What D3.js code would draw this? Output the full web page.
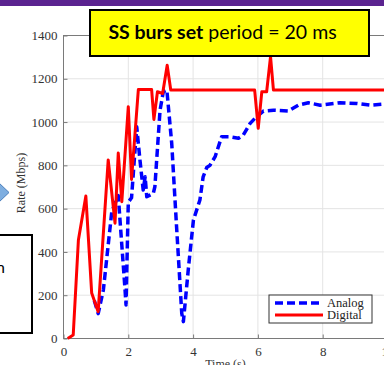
<!DOCTYPE html>
<html>
<head>
<meta charset="utf-8">
<script src="https://cdn.jsdelivr.net/npm/d3@7"></script>
<style>
  html, body { margin: 0; padding: 0; background: #fff; }
  svg { display: block; }
</style>
</head>
<body>
<svg id="chart" width="384" height="365"></svg>
<script>
// time (s) and rate (Mbps)
const digitalTime = [0.13, 0.3, 0.46, 0.69, 0.87, 1.07, 1.38, 1.59, 1.69, 1.8, 2.0, 2.1, 2.31, 2.72, 2.79, 2.9, 3.06, 3.2, 3.31, 5.9, 6.01, 6.12, 6.27, 6.39, 6.48, 10];
const digitalRate = [0, 16, 455, 658, 210, 124, 825, 533, 857, 632, 1071, 735, 1150, 1150, 1012, 1140, 1132, 1263, 1148, 1148, 971, 1140, 1140, 1302, 1148, 1148];

const analogTime = [0.95, 1.07, 1.23, 1.49, 1.69, 1.9, 1.93, 2.0, 2.1, 2.26, 2.36, 2.46, 2.52, 2.57, 2.77, 2.82, 2.98, 3.08, 3.19, 3.34, 3.49, 3.65, 3.7, 3.86, 4.01, 4.21, 4.31, 4.42, 4.52, 4.68, 4.88, 5.14, 5.4, 5.55, 5.76, 5.96, 6.17, 6.48, 6.94, 7.25, 7.56, 7.92, 8.53, 9.05, 9.46, 9.87, 10];
const analogRate = [176, 115, 224, 586, 660, 224, 155, 630, 650, 978, 824, 686, 747, 655, 670, 701, 1055, 1140, 1148, 902, 516, 116, 78, 332, 547, 640, 747, 790, 800, 840, 932, 932, 925, 940, 994, 1025, 1051, 1055, 1051, 1078, 1089, 1078, 1089, 1086, 1078, 1083, 1080];

const xTicks = [0, 2, 4, 6, 8, 10];
const yTicks = [0, 200, 400, 600, 800, 1000, 1200, 1400];
const seriesNames = ['Analog', 'Digital'];
const titleBold = 'SS burs set';
const titleRest = ' period = 20 ms';

const svg = d3.select('#chart');
const margin = { top: 35.5, left: 63.5 };
const plotW = 324, plotH = 303;

const x = d3.scaleLinear().domain([0, 10]).range([margin.left, margin.left + plotW]);
const y = d3.scaleLinear().domain([0, 1400]).range([margin.top + plotH, margin.top]);

// slide decoration behind the figure
svg.append('rect').attr('x', 0).attr('y', 0).attr('width', 384).attr('height', 6).attr('fill', '#5b2390');

// grid
const grid = svg.append('g').attr('stroke', '#e4e4e4').attr('stroke-width', 1);
grid.selectAll('.gx').data(xTicks).enter().append('line')
  .attr('x1', d => x(d)).attr('x2', d => x(d))
  .attr('y1', y(0)).attr('y2', y(1400));
grid.selectAll('.gy').data(yTicks).enter().append('line')
  .attr('x1', x(0)).attr('x2', x(10))
  .attr('y1', d => y(d)).attr('y2', d => y(d));

// axes
const serif = '"Liberation Serif", "Times New Roman", serif';
const xAxis = svg.append('g')
  .attr('transform', `translate(0,${y(0)})`)
  .call(d3.axisBottom(x).tickValues(xTicks).tickFormat(d3.format('d'))
    .tickSizeInner(-4).tickSizeOuter(0).tickPadding(8));
const yAxis = svg.append('g')
  .attr('transform', `translate(${x(0)},0)`)
  .call(d3.axisLeft(y).tickValues(yTicks).tickFormat(d3.format('d'))
    .tickSizeInner(-4).tickSizeOuter(0).tickPadding(6));
[xAxis, yAxis].forEach(a => {
  a.attr('font-family', serif).attr('font-size', 13);
  a.select('.domain').remove();
  a.selectAll('line').attr('stroke', '#7a7a7a');
  a.selectAll('text').attr('fill', '#333');
});

svg.append('rect')
  .attr('x', x(0)).attr('y', y(1400)).attr('width', plotW).attr('height', plotH)
  .attr('fill', 'none').attr('stroke', '#7a7a7a').attr('stroke-width', 1);

svg.append('text')
  .attr('transform', 'translate(25,183) rotate(-90)')
  .attr('text-anchor', 'middle')
  .attr('fill', '#333').style('font-family', serif).style('font-size', '12px')
  .text('Rate (Mbps)');
svg.append('text')
  .attr('x', x(5)).attr('y', 368)
  .attr('text-anchor', 'middle')
  .attr('fill', '#333').style('font-family', serif).style('font-size', '12px')
  .text('Time (s)');

// series
const line = d3.line().x(d => x(d[0])).y(d => y(d[1]));
const analog = analogTime.map((t, i) => [t, analogRate[i]]);
const digital = digitalTime.map((t, i) => [t, digitalRate[i]]);

svg.append('path').datum(analog)
  .attr('d', line).attr('fill', 'none')
  .attr('stroke', '#0000ff').attr('stroke-width', 3.5)
  .attr('stroke-dasharray', '8,4').attr('stroke-linejoin', 'round');
svg.append('path').datum(digital)
  .attr('d', line).attr('fill', 'none')
  .attr('stroke', '#ff0000').attr('stroke-width', 3).attr('stroke-linejoin', 'round');

// legend
const lg = svg.append('g');
lg.append('rect').attr('x', 269).attr('y', 295).attr('width', 103).attr('height', 28)
  .attr('fill', '#fff').attr('stroke', '#333').attr('stroke-width', 1);
seriesNames.forEach((name, i) => {
  const ly = 303 + i * 12;
  lg.append('line').attr('x1', 275).attr('x2', 323).attr('y1', ly).attr('y2', ly)
    .attr('stroke', i === 0 ? '#0000ff' : '#ff0000')
    .attr('stroke-width', i === 0 ? 3.5 : 3)
    .attr('stroke-dasharray', i === 0 ? '8,4' : null);
  lg.append('text').attr('x', 327).attr('y', ly + 4)
    .attr('fill', '#222').style('font-family', serif).style('font-size', '12.5px')
    .text(name);
});

// yellow callout
svg.append('rect').attr('x', 90).attr('y', 10).attr('width', 279).attr('height', 46)
  .attr('fill', '#ffff00').attr('stroke', '#000').attr('stroke-width', 2);
const title = svg.append('text').attr('x', 222.5).attr('y', 38.5)
  .attr('text-anchor', 'middle')
  .style('font-family', 'Lato, "Open Sans", sans-serif').style('font-size', '19.5px').attr('fill', '#000');
title.append('tspan').attr('font-weight', 'bold').text(titleBold);
title.append('tspan').text(titleRest);

// left slide pieces: arrow tip and framed box
svg.append('path').attr('d', 'M-2,182 L9,192.5 L-2,203 Z')
  .attr('fill', '#7eaee0').attr('stroke', '#4a7ebb').attr('stroke-width', 1);
svg.append('rect').attr('x', -5).attr('y', 235).attr('width', 37).attr('height', 98)
  .attr('fill', '#fff').attr('stroke', '#000').attr('stroke-width', 2);
svg.append('text').attr('x', 5).attr('y', 273).attr('text-anchor', 'end')
  .style('font-family', 'Lato, sans-serif').style('font-size', '16px').text('n');
</script>
</body>
</html>
